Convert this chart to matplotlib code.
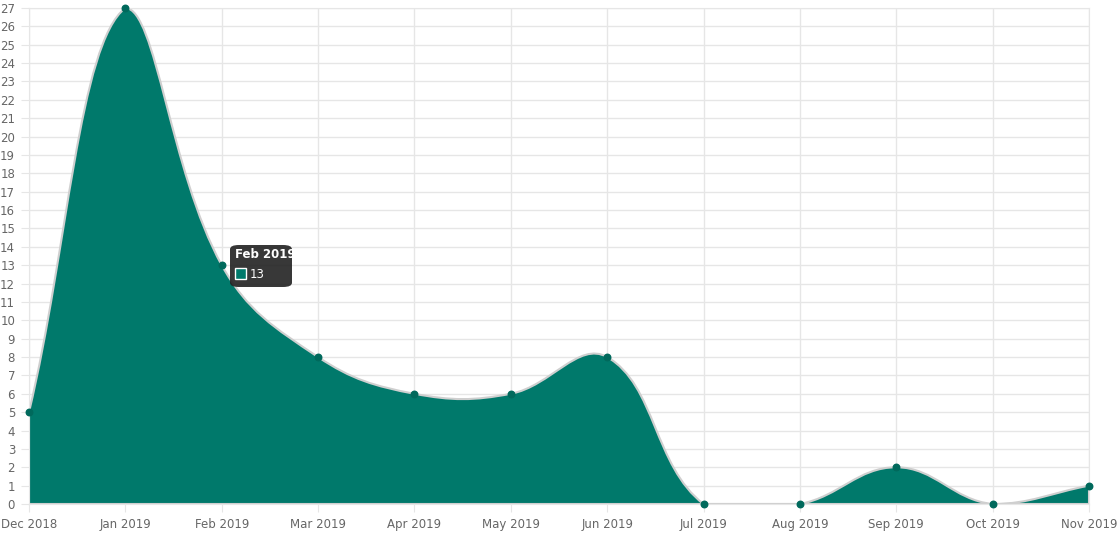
import matplotlib
matplotlib.use("Agg")
import matplotlib.pyplot as plt
from matplotlib.path import Path
from matplotlib.patches import PathPatch, FancyBboxPatch
import numpy as np

labels = ["Dec 2018","Jan 2019","Feb 2019","Mar 2019","Apr 2019","May 2019","Jun 2019",
          "Jul 2019","Aug 2019","Sep 2019","Oct 2019","Nov 2019"]
values = [5, 27, 13, 8, 6, 6, 8, 0, 0, 2, 0, 1]

W, H = 1118, 535
fig = plt.figure(figsize=(W/100, H/100), dpi=100)
L, R, T, B = 29, 1089, 8, 504
ax = fig.add_axes([L/W, 1-B/H, (R-L)/W, (B-T)/H])
n = len(values)
ymax = 27
ax.set_xlim(0, n-1); ax.set_ylim(0, ymax)

# Chart.js-style spline (tension 0.4) in pixel space
sx = (R-L)/(n-1); sy = (B-T)/ymax
px = np.arange(n)*sx; py = np.array(values)*sy
t = 0.4
cps = []
for i in range(n):
    pp = (px[max(i-1,0)], py[max(i-1,0)]); cc = (px[i], py[i]); nn = (px[min(i+1,n-1)], py[min(i+1,n-1)])
    d01 = np.hypot(cc[0]-pp[0], cc[1]-pp[1]); d12 = np.hypot(nn[0]-cc[0], nn[1]-cc[1])
    tot = d01 + d12
    s01 = d01/tot if tot else 0; s12 = d12/tot if tot else 0
    fa, fb = t*s01, t*s12
    prev = (cc[0]-fa*(nn[0]-pp[0]), cc[1]-fa*(nn[1]-pp[1]))
    nxt = (cc[0]+fb*(nn[0]-pp[0]), cc[1]+fb*(nn[1]-pp[1]))
    clamp = lambda p: (min(max(p[0],0),px[-1]), min(max(p[1],0),ymax*sy))
    cps.append((clamp(prev), clamp(nxt)))
verts = [(0, 0), (px[0]/sx, py[0]/sy)]
codes = [Path.MOVETO, Path.LINETO]
for i in range(n-1):
    a = cps[i][1]; b = cps[i+1][0]
    verts += [(a[0]/sx, a[1]/sy), (b[0]/sx, b[1]/sy), (px[i+1]/sx, py[i+1]/sy)]
    codes += [Path.CURVE4]*3
verts += [(n-1, 0), (0, 0)]
codes += [Path.LINETO, Path.CLOSEPOLY]
ax.add_patch(PathPatch(Path(verts, codes), facecolor="#00796b", edgecolor="#cfcfcf", lw=1.5, zorder=2))
ax.scatter(range(n), values, s=22, color="#00695c", zorder=3, clip_on=False)

ax.set_xticks(range(n)); ax.set_xticklabels(labels)
ax.set_yticks(range(0, ymax+1))
ax.grid(True, color="#e6e6e6", lw=1, zorder=0)
ax.set_axisbelow(True)
for s in ax.spines.values():
    s.set_color("#e6e6e6")
ax.tick_params(colors="#666666", labelsize=8.5, length=0, pad=4)
ax.tick_params(axis="x", length=6, color="#e6e6e6")
ax.tick_params(axis="y", length=6, color="#e6e6e6")

# tooltip
fig.patches.append(FancyBboxPatch((230/W, 1-287/H), 62/W, 42/H, boxstyle="round,pad=0,rounding_size=0.008",
                                  transform=fig.transFigure, facecolor="#222222", alpha=0.9, edgecolor="none"))
fig.text(235/W, 1-255/H, "Feb 2019", color="white", fontsize=8.5, fontweight="bold", va="center")
fig.patches.append(plt.Rectangle((235/W, 1-279/H), 11/W, 11/H, transform=fig.transFigure,
                                 facecolor="#00796b", edgecolor="white", lw=1))
fig.text(250/W, 1-274/H, "13", color="white", fontsize=8.5, va="center")
fig.savefig("out.png", dpi=100)
